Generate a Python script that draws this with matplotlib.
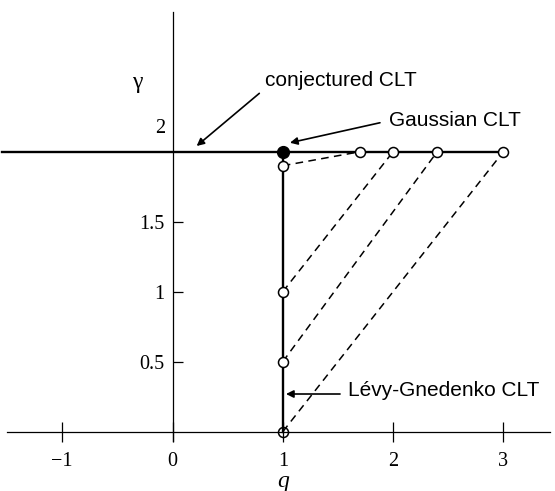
import matplotlib.pyplot as plt

# open circles on the q = 1 line and the matching points on gamma = 2
levy_gamma = [1.9, 1.0, 0.5, 0.0]
attractor_q = [1.7, 2.0, 2.4, 3.0]
gauss_q, gauss_gamma = 1.0, 2.0
conj_q_start = -1.55

xticks = [-1, 0, 1, 2, 3]
yticks = [0.5, 1, 1.5]

SERIF = "Liberation Serif"
SANS = "Liberation Sans"

fig = plt.figure(figsize=(5.55, 4.91), dpi=100)
ax = fig.add_axes([0, 0, 1, 1])
ax.set_xlim(-1.564, 3.468)
ax.set_ylim(-0.424, 3.084)

# axes crossing at the origin
for s in ("top", "right"):
    ax.spines[s].set_visible(False)
ax.spines["left"].set_position(("data", 0))
ax.spines["bottom"].set_position(("data", 0))
ax.spines["left"].set_bounds(-0.07, 3.0)
ax.spines["bottom"].set_bounds(-1.50, 3.42)
for s in ("left", "bottom"):
    ax.spines[s].set_linewidth(0.9)

ax.set_xticks(xticks)
ax.set_xticklabels(["\u22121", "0", "1", "2", "3"], family=SERIF, fontsize=14.5)
ax.set_yticks(yticks)
ax.set_yticklabels(["0.5", "1", "1.5"], family=SERIF, fontsize=14.5)
ax.tick_params(axis="x", direction="inout", length=14, width=0.9, pad=7.5)
ax.tick_params(axis="y", direction="in", length=7, width=0.9, pad=6)
ax.text(-0.068, 2.097, "2", family=SERIF, fontsize=14.5, ha="right",
        va="bottom")

# conjectured CLT line (gamma = 2) and Levy-Gnedenko line (q = 1)
ax.plot([conj_q_start, attractor_q[-1]], [gauss_gamma, gauss_gamma],
        color="black", lw=1.7, zorder=2)
ax.plot([gauss_q, gauss_q], [levy_gamma[-1], gauss_gamma],
        color="black", lw=1.7, zorder=2)

# dashed links between each Levy point and its q attractor
for g, q in zip(levy_gamma, attractor_q):
    ax.plot([gauss_q, q], [g, gauss_gamma], color="black", lw=1.1,
            ls=(0, (5, 3.5)), zorder=1)

ax.plot([gauss_q] * 3, levy_gamma[:3], "o", ms=7.2, mfc="white", mec="black",
        mew=1.1, zorder=4)
ax.plot([gauss_q], levy_gamma[3:], "o", ms=7.2, mfc="none", mec="black",
        mew=1.1, zorder=4)
ax.plot(attractor_q, [gauss_gamma] * len(attractor_q), "o", ms=7.2,
        mfc="white", mec="black", mew=1.1, zorder=4)
ax.plot([gauss_q], [gauss_gamma], "o", ms=8.5, color="black", zorder=5)

# axis names
ax.text(-0.322, 2.498, "\u03b3", family=SERIF, fontsize=17, ha="center",
        va="center")
ax.text(1.0, -0.355, "q", family=SERIF, style="italic", fontsize=17,
        ha="center", va="center")

arrow = dict(arrowstyle="-|>", color="black", lw=1.2, mutation_scale=11,
             shrinkA=0, shrinkB=0)
ax.annotate("", xy=(0.219, 2.041), xytext=(0.787, 2.417), arrowprops=arrow)
ax.text(0.839, 2.51, "conjectured CLT", family=SANS, fontsize=15,
        ha="left", va="center")
ax.annotate("", xy=(1.065, 2.064), xytext=(1.881, 2.207), arrowprops=arrow)
ax.text(1.963, 2.223, "Gaussian CLT", family=SANS, fontsize=15,
        ha="left", va="center")
ax.annotate("", xy=(1.029, 0.269), xytext=(1.519, 0.269), arrowprops=arrow)
ax.text(1.591, 0.291, "L\u00e9vy-Gnedenko CLT", family=SANS, fontsize=15,
        ha="left", va="center")

fig.savefig("out.png", dpi=100, facecolor="white")
